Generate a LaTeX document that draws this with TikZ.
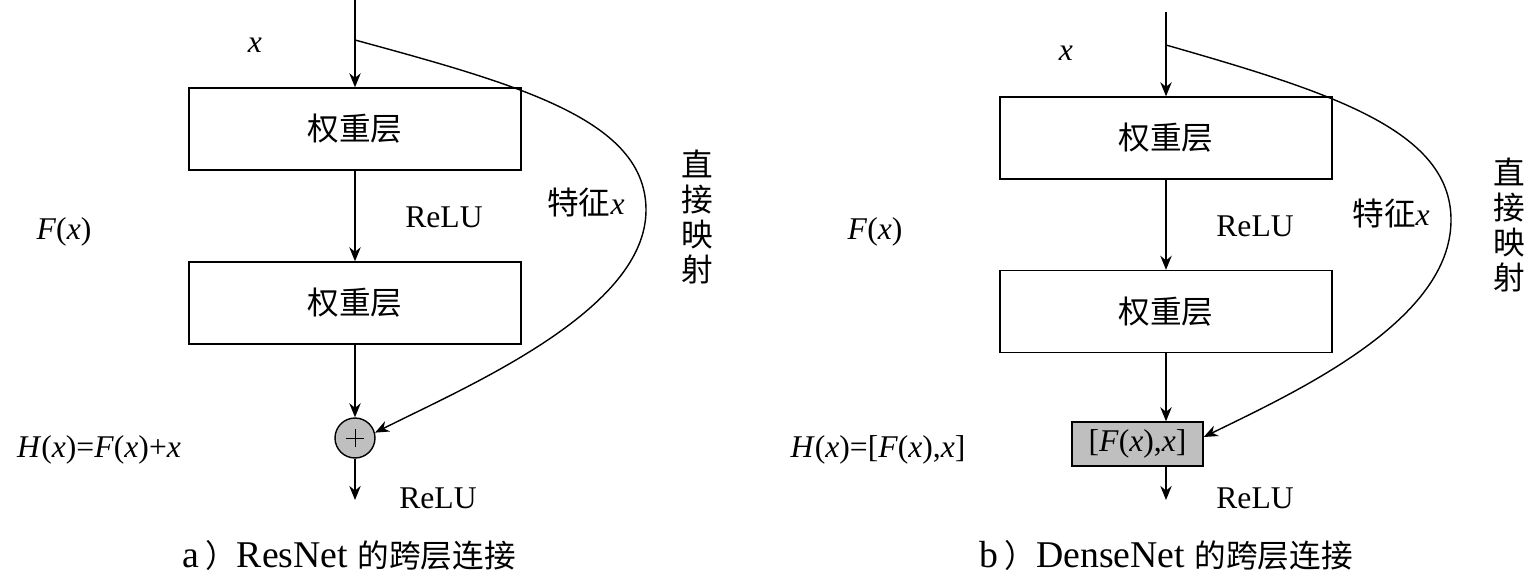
\documentclass[tikz,border=0pt]{standalone}
\usepackage{fontspec}
\setmainfont{Liberation Serif}
\newfontfamily\cjk{Noto Sans CJK SC}
\usetikzlibrary{arrows.meta}
\begin{document}
\begin{tikzpicture}[x=0.02cm,y=-0.02cm,
  font=\fontsize{18}{22}\selectfont,
  line width=0.8pt,
  layer/.style={draw,minimum width=6.64cm,minimum height=1.64cm,inner sep=0pt,font=\cjk\fontsize{18}{22}\selectfont},
  sumnode/.style={draw,circle,fill=black!25,minimum size=0.8cm,inner sep=0pt},
  catnode/.style={draw,fill=black!25,minimum width=2.62cm,minimum height=0.88cm,inner sep=0pt},
  arr/.style={-{Stealth[length=8pt,width=6.5pt]}},
  lbl/.style={inner sep=0pt},
  caplbl/.style={inner sep=0pt,font=\fontsize{21.5}{24}\selectfont},
  vlbl/.style={inner sep=0pt,align=center,font=\cjk\fontsize{18}{19.9}\selectfont}]
\useasboundingbox (0,0) rectangle (1537,578);

% ---------- left panel: ResNet ----------
\coordinate (inA) at (355,0);
\coordinate (spA) at (355,40);
\node[layer] (a1) at (355,129) {权重层};
\node[layer] (a2) at (355,303) {权重层};
\node[sumnode] (sum) at (355,438) {};
\draw[line width=0.5pt] ([xshift=-0.18cm]sum.center) -- ([xshift=0.18cm]sum.center)
  ([yshift=-0.18cm]sum.center) -- ([yshift=0.18cm]sum.center);
\coordinate (outA) at (355,500);
\draw (inA) -- (spA);
\draw[arr] (spA) -- (a1.north);
\draw[arr] (a1) -- (a2);
\draw[arr] (a2) -- (sum);
\draw[arr] (sum) -- (outA);
\draw[arr] (spA) .. controls (520,85) and (646,120) .. (646,210)
  .. controls (646,310) and (470,385) .. (sum.15);

\node[lbl] (xa) at (255,45) {\textit{x}};
\node[lbl] (relua) at (444,217) {ReLU};
\node[lbl] (feata) at (586,202) {{\cjk 特征}\textit{x}};
\node[vlbl] (mapa) at (697,217) {直\\接\\映\\射};
\node[lbl] (Fa) at (64,232) {\textit{F}(\textit{x})};
\node[lbl] (Ha) at (99,450) {\textit{H}(\textit{x})=\textit{F}(\textit{x})+\textit{x}};
\node[lbl] (reluA2) at (438,498) {ReLU};
\node[caplbl] (capA) at (349,555) {a\,{\cjk\fontsize{18}{22}\selectfont ）}ResNet {\cjk\fontsize{18}{22}\selectfont 的跨层连接}};

% ---------- right panel: DenseNet ----------
\coordinate (inB) at (1166,12);
\coordinate (spB) at (1166,45);
\node[layer] (b1) at (1166,138) {权重层};
\node[layer] (b2) at (1166,311.5) {权重层};
\node[catnode] (cat) at (1137.5,444) {[\textit{F}(\textit{x}),\textit{x}]};
\coordinate (outB) at (1166,500);
\draw (inB) -- (spB);
\draw[arr] (spB) -- (b1.north);
\draw[arr] (b1) -- (b2);
\draw[arr] (b2.south) -- (b2.south |- cat.north);
\draw[arr] (outB |- cat.south) -- (outB);
\draw[arr] (spB) .. controls (1330,92) and (1451,130) .. (1451,220)
  .. controls (1451,320) and (1300,390) .. ([yshift=0.14cm]cat.east);

\node[lbl] (xb) at (1066,53) {\textit{x}};
\node[lbl] (relub) at (1255,226) {ReLU};
\node[lbl] (featb) at (1391,213) {{\cjk 特征}\textit{x}};
\node[vlbl] (mapb) at (1509,225) {直\\接\\映\\射};
\node[lbl] (Fb) at (875,232) {\textit{F}(\textit{x})};
\node[lbl] (Hb) at (878,450) {\textit{H}(\textit{x})=[\textit{F}(\textit{x}),\textit{x}]};
\node[lbl] (reluB2) at (1255,498) {ReLU};
\node[caplbl] (capB) at (1166,555) {b\,{\cjk\fontsize{18}{22}\selectfont ）}DenseNet {\cjk\fontsize{18}{22}\selectfont 的跨层连接}};
\end{tikzpicture}
\end{document}
